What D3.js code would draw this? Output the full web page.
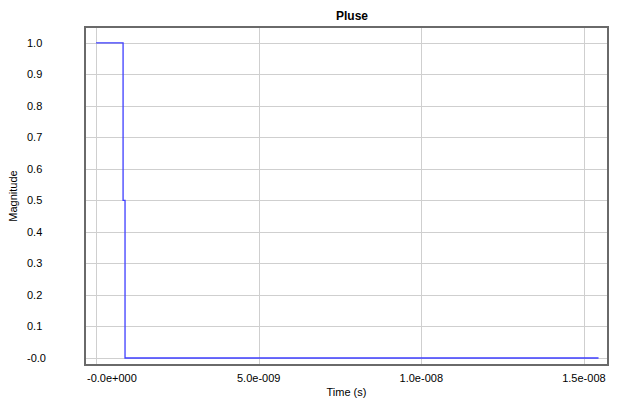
<!DOCTYPE html>
<html>
<head>
<meta charset="utf-8">
<script src="https://cdn.jsdelivr.net/npm/d3@7"></script>
<style>
  html, body { margin: 0; padding: 0; background: #fff; }
  svg { display: block; }
  text { font-family: "Liberation Sans", "DejaVu Sans", sans-serif; fill: #000; }
</style>
</head>
<body>
<svg id="chart" width="621" height="401"></svg>
<script>
// Pulse waveform samples: time (s) and magnitude
const timeValues = [0, 0.83e-9, 0.83e-9, 0.89e-9, 0.89e-9, 15.45e-9];
const magnitudeValues = [1.0, 1.0, 0.5, 0.5, 0.0, 0.0];

// Axis ticks
const xTicks = [0, 5e-9, 1e-8, 1.5e-8];
const xTickLabels = ["-0.0e+000", "5.0e-009", "1.0e-008", "1.5e-008"];
const yTicks = [0, 0.1, 0.2, 0.3, 0.4, 0.5, 0.6, 0.7, 0.8, 0.9, 1.0];
const yTickLabels = ["-0.0", "0.1", "0.2", "0.3", "0.4", "0.5", "0.6", "0.7", "0.8", "0.9", "1.0"];

const chartTitle = "Pluse";
const xTitle = "Time (s)";
const yTitle = "Magnitude";

const svg = d3.select("#chart");
const W = 621, H = 401;
const plot = { left: 86, top: 28, right: 607, bottom: 364 };

const x = d3.scaleLinear().domain([-0.31e-9, 15.71e-9]).range([plot.left, plot.right]);
const y = d3.scaleLinear().domain([-0.019, 1.047]).range([plot.bottom, plot.top]);

// Grid lines
const grid = svg.append("g").attr("shape-rendering", "crispEdges");
grid.selectAll("line.gx").data(xTicks).enter().append("line")
  .attr("x1", d => Math.round(x(d)) + 0.5).attr("x2", d => Math.round(x(d)) + 0.5)
  .attr("y1", plot.top).attr("y2", plot.bottom)
  .attr("stroke", "#cfcfcf").attr("stroke-width", 1);
grid.selectAll("line.gy").data(yTicks).enter().append("line")
  .attr("y1", d => Math.round(y(d)) + 0.5).attr("y2", d => Math.round(y(d)) + 0.5)
  .attr("x1", plot.left).attr("x2", plot.right)
  .attr("stroke", "#cfcfcf").attr("stroke-width", 1);

// Pulse trace
const pts = timeValues.map((t, i) => [t, magnitudeValues[i]]);
svg.append("path")
  .datum(pts)
  .attr("d", d3.line().x(d => x(d[0])).y(d => y(d[1])))
  .attr("fill", "none")
  .attr("stroke", "#3f3fff")
  .attr("stroke-width", 1.3);

// Plot frame
svg.append("rect")
  .attr("x", plot.left - 1).attr("y", plot.top - 1)
  .attr("width", plot.right - plot.left + 2).attr("height", plot.bottom - plot.top + 2)
  .attr("fill", "none").attr("stroke", "#6a6a6a").attr("stroke-width", 2)
  .attr("shape-rendering", "crispEdges");

// Y tick labels (left-aligned column)
svg.append("g").selectAll("text").data(yTicks).enter().append("text")
  .attr("x", 27)
  .attr("y", d => y(d) + 4)
  .attr("font-size", 11)
  .text((d, i) => yTickLabels[i]);

// X tick labels, kept inside the chart area at the ends
const xl = svg.append("g").selectAll("text").data(xTicks).enter().append("text")
  .attr("y", 382)
  .attr("font-size", 11)
  .attr("text-anchor", "start")
  .text((d, i) => xTickLabels[i]);
xl.each(function(d) {
  const w = this.getComputedTextLength();
  let left = x(d) - w / 2;
  left = Math.max(plot.left + 1, Math.min(W - 3 - w, left));
  d3.select(this).attr("x", left);
});

// Titles
svg.append("text")
  .attr("x", 352).attr("y", 20)
  .attr("text-anchor", "middle")
  .attr("font-size", 12).attr("font-weight", "bold")
  .text(chartTitle);

svg.append("text")
  .attr("x", (plot.left + plot.right) / 2).attr("y", 396)
  .attr("text-anchor", "middle")
  .attr("font-size", 11)
  .text(xTitle);

svg.append("text")
  .attr("transform", `translate(17,${(plot.top + plot.bottom) / 2}) rotate(-90)`)
  .attr("text-anchor", "middle")
  .attr("font-size", 11)
  .text(yTitle);
</script>
</body>
</html>
